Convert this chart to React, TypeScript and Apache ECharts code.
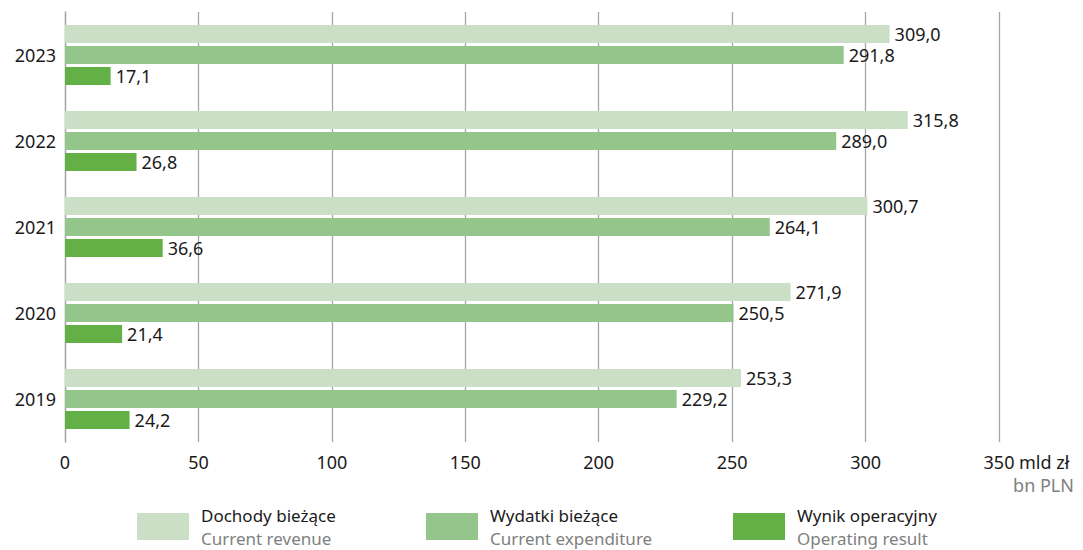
import React, { useEffect, useRef } from "react";
import * as echarts from "echarts";

const years = ["2023", "2022", "2021", "2020", "2019"];
const revenue = [309.0, 315.8, 300.7, 271.9, 253.3];
const expenditure = [291.8, 289.0, 264.1, 250.5, 229.2];
const operating = [17.1, 26.8, 36.6, 21.4, 24.2];
const seriesNamesPl = ["Dochody bieżące", "Wydatki bieżące", "Wynik operacyjny"];
const seriesNamesEn = ["Current revenue", "Current expenditure", "Operating result"];
const colors = ["#cadfc6", "#94c58a", "#62b046"];

const FONT = "'Noto Sans', sans-serif";
const FS = 18;
const LFS = 17;

export default function App() {
  const ref = useRef<HTMLDivElement>(null);
  useEffect(() => {
    if (!ref.current) return;
    const chart = echarts.init(ref.current, null, { renderer: "svg" });
    const mk = (name: string, data: number[], color: string) => ({
      name,
      type: "bar",
      data,
      barWidth: 18,
      barGap: "17%",
      itemStyle: { color },
      label: {
        show: true,
        position: "right",
        distance: 5,
        color: "#1a1a1a",
        fontSize: FS,
        fontFamily: FONT,
        formatter: (p: any) => p.value.toFixed(1).replace(".", ","),
      },
    });
    const legendX = [137, 426, 733];
    const legendGraphics: any[] = [];
    for (let i = 0; i < 3; i++) {
      legendGraphics.push({
        type: "rect",
        shape: { x: legendX[i], y: 513, width: 52, height: 27 },
        style: { fill: colors[i] },
      });
      legendGraphics.push({
        type: "text",
        x: legendX[i] + 64,
        y: 504,
        style: {
          text: `{a|${seriesNamesPl[i]}}\n{b|${seriesNamesEn[i]}}`,
          fontFamily: FONT,
          fontSize: LFS,
          lineHeight: 23,
          verticalAlign: "top",
          rich: {
            a: { fill: "#1a1a1a", fontSize: LFS, fontFamily: FONT, lineHeight: 23 },
            b: { fill: "#808080", fontSize: LFS, fontFamily: FONT, lineHeight: 23 },
          },
        },
      });
    }
    chart.setOption({
      animation: false,
      grid: { left: 65, right: 84, top: 12, bottom: 108, containLabel: false },
      xAxis: {
        type: "value",
        min: 0,
        max: 350,
        interval: 50,
        axisLine: { show: false },
        axisTick: { show: false },
        splitLine: { show: true, lineStyle: { color: "#a6a6a6", width: 1.3 } },
        axisLabel: { color: "#1a1a1a", fontSize: FS, fontFamily: FONT, margin: 11 },
      },
      yAxis: {
        type: "category",
        data: years,
        inverse: true,
        axisLine: { show: true, lineStyle: { color: "#a6a6a6", width: 1.3 } },
        axisTick: { show: false },
        axisLabel: { color: "#1a1a1a", fontSize: FS, fontFamily: FONT, margin: 9 },
      },
      series: [
        mk(seriesNamesPl[0], revenue, colors[0]),
        mk(seriesNamesPl[1], expenditure, colors[1]),
        mk(seriesNamesPl[2], operating, colors[2]),
      ],
      graphic: [
        {
          type: "text",
          x: 1019,
          y: 462,
          style: { text: "mld zł", fill: "#1a1a1a", fontSize: FS, fontFamily: FONT, verticalAlign: "middle" },
        },
        {
          type: "text",
          x: 1074,
          y: 485,
          style: { text: "bn PLN", fill: "#808080", fontSize: FS, fontFamily: FONT, align: "right", verticalAlign: "middle" },
        },
        ...legendGraphics,
      ],
    });
    return () => chart.dispose();
  }, []);
  return (
    <div
      ref={ref}
      style={{ position: "fixed", left: 0, top: 0, width: 1083, height: 550, background: "#fff" }}
    />
  );
}
